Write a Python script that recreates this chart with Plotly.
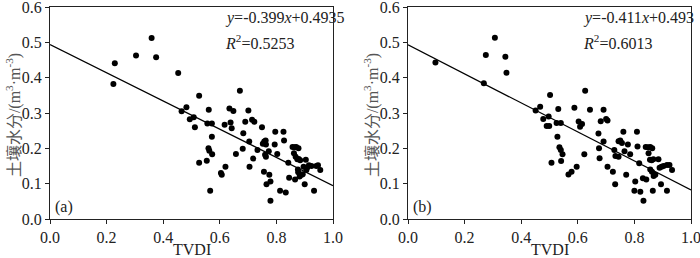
import plotly.graph_objects as go

# ---- data ----
a_x = [0.224, 0.229, 0.304, 0.359, 0.375, 0.453, 0.465, 0.482, 0.494, 0.508,
       0.512, 0.527, 0.527, 0.554, 0.556, 0.561, 0.572, 0.572, 0.560, 0.563,
       0.573, 0.566, 0.604, 0.607, 0.620, 0.617, 0.634, 0.648, 0.638, 0.642,
       0.657, 0.671, 0.681, 0.683, 0.690, 0.701, 0.704, 0.705, 0.714, 0.722,
       0.718, 0.733, 0.749, 0.752, 0.757, 0.762, 0.763, 0.760, 0.763, 0.756,
       0.765, 0.773, 0.775, 0.779, 0.779, 0.794, 0.796, 0.803, 0.813, 0.825,
       0.827, 0.833, 0.842, 0.845, 0.857, 0.864, 0.870, 0.878, 0.862, 0.866,
       0.868, 0.874, 0.879, 0.884, 0.876, 0.877, 0.882, 0.889, 0.896, 0.904,
       0.906, 0.909, 0.915, 0.924, 0.941, 0.947, 0.955, 0.900, 0.933, 0.893]
a_y = [0.382, 0.441, 0.463, 0.512, 0.458, 0.413, 0.305, 0.316, 0.282, 0.288,
       0.260, 0.349, 0.159, 0.165, 0.270, 0.309, 0.270, 0.233, 0.200, 0.193,
       0.183, 0.080, 0.130, 0.125, 0.148, 0.267, 0.313, 0.306, 0.273, 0.257,
       0.184, 0.363, 0.199, 0.243, 0.275, 0.307, 0.219, 0.148, 0.281, 0.275,
       0.171, 0.195, 0.260, 0.213, 0.219, 0.222, 0.211, 0.182, 0.176, 0.134,
       0.098, 0.192, 0.125, 0.106, 0.052, 0.211, 0.247, 0.184, 0.080, 0.247,
       0.222, 0.075, 0.159, 0.117, 0.204, 0.203, 0.204, 0.200, 0.186, 0.112,
       0.176, 0.169, 0.170, 0.166, 0.140, 0.132, 0.120, 0.125, 0.148, 0.168,
       0.139, 0.146, 0.152, 0.150, 0.150, 0.152, 0.139, 0.098, 0.080, 0.127]

b_x = [0.097, 0.268, 0.275, 0.307, 0.344, 0.348, 0.502, 0.451, 0.467, 0.478,
       0.497, 0.490, 0.499, 0.531, 0.525, 0.540, 0.588, 0.626, 0.643, 0.603,
       0.615, 0.608, 0.691, 0.681, 0.700, 0.705, 0.528, 0.535, 0.540, 0.546,
       0.507, 0.541, 0.567, 0.578, 0.596, 0.623, 0.673, 0.675, 0.677, 0.691,
       0.705, 0.724, 0.729, 0.732, 0.733, 0.744, 0.744, 0.750, 0.756, 0.761,
       0.765, 0.771, 0.777, 0.785, 0.803, 0.800, 0.809, 0.811, 0.817, 0.821,
       0.832, 0.830, 0.842, 0.840, 0.848, 0.856, 0.863, 0.850, 0.855, 0.861,
       0.867, 0.856, 0.862, 0.865, 0.868, 0.874, 0.885, 0.889, 0.896, 0.903,
       0.894, 0.915, 0.924, 0.933, 0.915]
b_y = [0.443, 0.384, 0.464, 0.513, 0.459, 0.414, 0.351, 0.307, 0.318, 0.283,
       0.290, 0.263, 0.263, 0.311, 0.272, 0.272, 0.315, 0.363, 0.309, 0.276,
       0.269, 0.261, 0.309, 0.277, 0.283, 0.279, 0.233, 0.203, 0.195, 0.183,
       0.159, 0.164, 0.126, 0.134, 0.148, 0.183, 0.242, 0.200, 0.172, 0.219,
       0.148, 0.134, 0.195, 0.098, 0.178, 0.176, 0.220, 0.222, 0.215, 0.247,
       0.192, 0.125, 0.211, 0.183, 0.106, 0.080, 0.247, 0.205, 0.158, 0.077,
       0.052, 0.115, 0.112, 0.204, 0.203, 0.204, 0.200, 0.186, 0.168, 0.166,
       0.169, 0.140, 0.134, 0.080, 0.122, 0.125, 0.169, 0.145, 0.148, 0.150,
       0.098, 0.153, 0.153, 0.139, 0.080]

a_fit = (-0.399, 0.4935)
b_fit = (-0.411, 0.493)
a_eq = "<i>y</i>=-0.399<i>x</i>+0.4935"
a_r2 = "<i>R</i><sup>2</sup>=0.5253"
b_eq = "<i>y</i>=-0.411<i>x</i>+0.493"
b_r2 = "<i>R</i><sup>2</sup>=0.6013"
panel_labels = ["(a)", "(b)"]
x_ticks = [0.0, 0.2, 0.4, 0.6, 0.8, 1.0]
y_ticks = [0.0, 0.1, 0.2, 0.3, 0.4, 0.5, 0.6]
x_title = "TVDI"
y_title = "土壤水分/(m<sup>3</sup>·m<sup>-3</sup>)"

W, H = 700, 258
FONT = "Liberation Serif, Times New Roman, serif"
TXT = "#222"
FS = 16

fig = go.Figure()

panels = [
    (a_x, a_y, a_fit, a_eq, a_r2, "x", "y", 50, 333),
    (b_x, b_y, b_fit, b_eq, b_r2, "x2", "y2", 408, 691),
]

for i, (px, py, fit, eq, r2, xa, ya, left, right) in enumerate(panels):
    fig.add_trace(go.Scatter(x=px, y=py, mode="markers", xaxis=xa, yaxis=ya,
                             marker=dict(color="black", size=6),
                             showlegend=False, hoverinfo="skip"))
    lx = [x_ticks[0], x_ticks[-1]]
    ly = [fit[0] * v + fit[1] for v in lx]
    fig.add_trace(go.Scatter(x=lx, y=ly, mode="lines", xaxis=xa, yaxis=ya,
                             line=dict(color="black", width=1.3),
                             showlegend=False, hoverinfo="skip"))
    axcommon = dict(showline=True, linecolor="#222", linewidth=1, mirror=True,
                    ticks="outside", ticklen=4, tickcolor="#222", showgrid=False,
                    zeroline=False, tickformat=".1f", automargin=False,
                    ticklabeloverflow="allow",
                    tickfont=dict(family=FONT, size=FS, color=TXT))
    xkey = "xaxis" if xa == "x" else "xaxis2"
    ykey = "yaxis" if ya == "y" else "yaxis2"
    fig.update_layout(**{
        xkey: dict(axcommon, domain=[left / W, right / W], range=[0, 1],
                   tickvals=x_ticks, anchor=ya),
        ykey: dict(axcommon, domain=[0, 1], range=[0, 0.6],
                   tickvals=y_ticks, anchor=xa),
    })
    xd = xa + " domain"
    yd = ya + " domain"
    fig.add_annotation(x=0.612, y=0.95, xref=xd, yref=yd, text=eq, showarrow=False,
                       xanchor="left", yanchor="middle",
                       font=dict(family=FONT, size=FS, color=TXT))
    fig.add_annotation(x=0.612, y=0.835, xref=xd, yref=yd, text=r2, showarrow=False,
                       xanchor="left", yanchor="middle",
                       font=dict(family=FONT, size=FS, color=TXT))
    fig.add_annotation(x=0.012, y=0.055, xref=xd, yref=yd, text=panel_labels[i],
                       showarrow=False, xanchor="left", yanchor="middle",
                       font=dict(family=FONT, size=FS, color=TXT))
    fig.add_annotation(x=(left + right) / 2 / W, y=-30 / 212, xref="paper", yref="paper",
                       text=x_title, showarrow=False, xanchor="center", yanchor="middle",
                       font=dict(family=FONT, size=FS, color=TXT))
    fig.add_annotation(x=(left - 37) / W, y=0.49, xref="paper", yref="paper",
                       text=y_title, showarrow=False, textangle=-90,
                       xanchor="center", yanchor="middle",
                       font=dict(family=FONT + ", Noto Sans CJK SC",
                                 size=16, color="#555"))

fig.update_layout(width=W, height=H, margin=dict(l=0, r=0, t=7, b=39, autoexpand=False),
                  paper_bgcolor="white", plot_bgcolor="white")

fig.write_html("out.html", config={"displayModeBar": False},
               post_script="document.body.style.margin='0';document.body.style.overflow='hidden';")
